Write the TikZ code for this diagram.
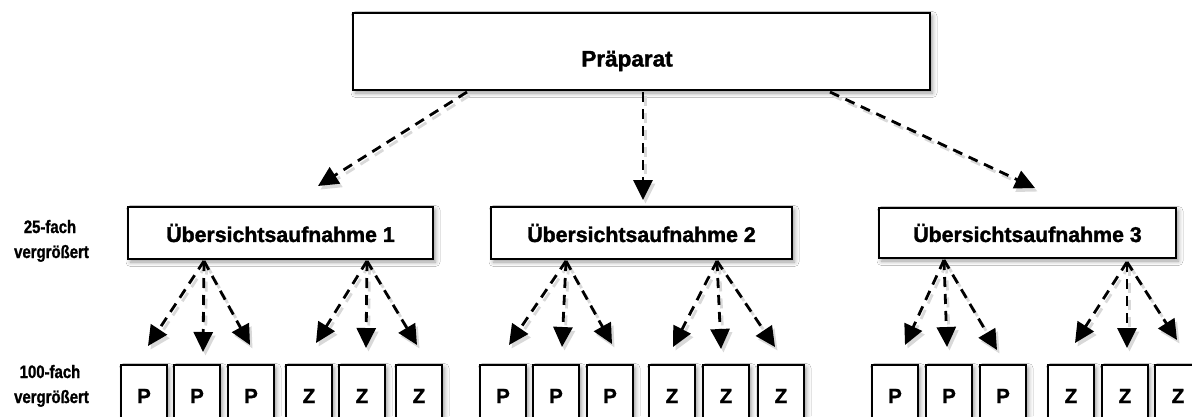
\documentclass[tikz,border=0pt]{standalone}
\usepackage{fontspec}
\setmainfont{Liberation Sans}
\newfontfamily\heavysans[BoldFeatures={FakeBold=1.6}]{Liberation Sans}
\newfontfamily\narrowsans[FakeStretch=0.83,BoldFeatures={FakeBold=1.2}]{Liberation Sans}
\usetikzlibrary{arrows.meta,shadows.blur}
\tikzset{
  box/.style={draw=black, line width=1.3pt, fill=white, inner sep=0pt,
    blur shadow={shadow xshift=2.5pt, shadow yshift=-3pt, shadow blur radius=4.5pt}},
  bigbox/.style={box},
  ubox/.style={box, font=\heavysans\bfseries\fontsize{21.3}{24}\selectfont},
  smallbox/.style={box, minimum width=46pt, minimum height=62pt, font=\heavysans\bfseries\fontsize{20.5}{22}\selectfont},
  lab/.style={anchor=base, inner sep=0pt, font=\narrowsans\bfseries\fontsize{18}{22}\selectfont},
  darr/.style={line width=2.8pt, dash pattern=on 10pt off 7pt,
    -{Triangle[length=20pt,width=19pt]}},
}
\begin{document}
\begin{tikzpicture}[x=1pt,y=-1pt]
\clip (0,0) rectangle (1192,416);
\fill[white] (0,0) rectangle (1192,416);

% top box
\node[bigbox, minimum width=577pt, minimum height=77pt] (prap) at (641.5,51.5) {};
\node[anchor=base, inner sep=0pt, font=\heavysans\bfseries\fontsize{22.5}{24}\selectfont] (praptext) at (627,66.5) {Präparat};

% overview boxes
\node[ubox, minimum width=305pt, minimum height=52pt] (u1) at (280.5,233) {Übersichtsaufnahme 1};
\node[ubox, minimum width=301pt, minimum height=52pt] (u2) at (641.5,233) {Übersichtsaufnahme 2};
\node[ubox, minimum width=297pt, minimum height=50pt] (u3) at (1027.5,233) {Übersichtsaufnahme 3};

% side labels
\node[lab] (l25a) at (50,233) {25-fach};
\node[lab] (l25b) at (51.5,258) {vergrößert};
\node[lab] (l100a) at (50,378) {100-fach};
\node[lab] (l100b) at (51.5,403) {vergrößert};

% small boxes
\foreach \n/\x/\t in {a1/144/P,a2/197/P,a3/251/P,a4/309/Z,a5/362/Z,a6/419/Z,
                      b1/503/P,b2/556/P,b3/610/P,b4/672/Z,b5/726/Z,b6/781/Z,
                      c1/895/P,c2/949/P,c3/1003/P,c4/1071/Z,c5/1125/Z,c6/1178/Z}{
  \node[smallbox] (\n) at (\x,396) {\t};
}

% arrow start coordinates
\coordinate (s0l) at (467,92);
\coordinate (s0m) at (643,92);
\coordinate (s0r) at (830,92);
\coordinate (s1p) at (204,261);
\coordinate (s1z) at (367,261);
\coordinate (s2p) at (566,261);
\coordinate (s2z) at (717,261);
\coordinate (s3p) at (944,260);
\coordinate (s3z) at (1127,262);

% arrow end coordinates
\coordinate (e0l) at (318,186);
\coordinate (e0m) at (643,200);
\coordinate (e0r) at (1035,188);
\coordinate (e1a) at (148,346);
\coordinate (e1b) at (203,352);
\coordinate (e1c) at (250,345);
\coordinate (e1d) at (316,343);
\coordinate (e1e) at (366,348);
\coordinate (e1f) at (417,345);
\coordinate (e2a) at (509,345);
\coordinate (e2b) at (562,347);
\coordinate (e2c) at (612,344);
\coordinate (e2d) at (673,347);
\coordinate (e2e) at (721,349);
\coordinate (e2f) at (775,347);
\coordinate (e3a) at (905,345);
\coordinate (e3b) at (947,347);
\coordinate (e3c) at (997,350);
\coordinate (e3d) at (1075,343);
\coordinate (e3e) at (1127,348);
\coordinate (e3f) at (1177,340);

\foreach \s/\e in {s0l/e0l,s0m/e0m,s0r/e0r,
  s1p/e1a,s1p/e1b,s1p/e1c,s1z/e1d,s1z/e1e,s1z/e1f,
  s2p/e2a,s2p/e2b,s2p/e2c,s2z/e2d,s2z/e2e,s2z/e2f,
  s3p/e3a,s3p/e3b,s3p/e3c,s3z/e3d,s3z/e3e,s3z/e3f}{
  \draw[darr, black!15, transform canvas={xshift=2.5pt,yshift=-3.5pt}] (\s) -- (\e);
  \draw[darr] (\s) -- (\e);
}
\end{tikzpicture}
\end{document}
